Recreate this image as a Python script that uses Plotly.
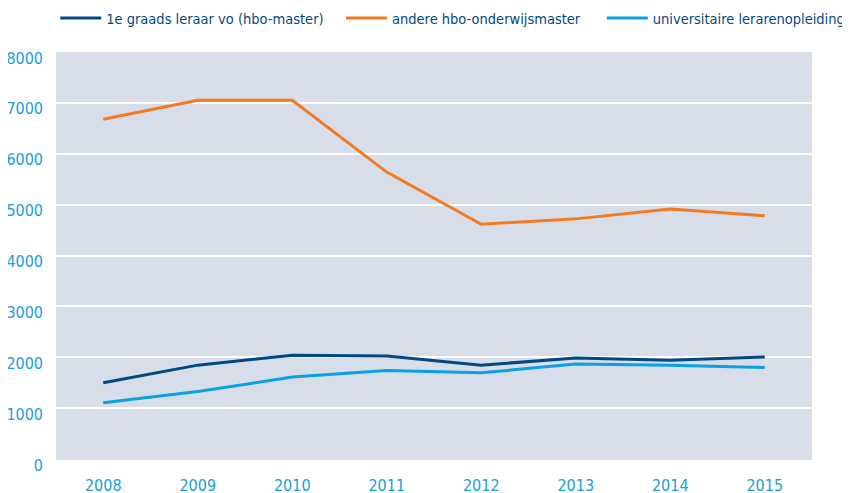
import plotly.graph_objects as go

years = ["2008", "2009", "2010", "2011", "2012", "2013", "2014", "2015"]
leraar_vo = [1500, 1845, 2040, 2025, 1845, 1985, 1940, 2005]
andere_hbo = [6680, 7050, 7050, 5640, 4615, 4720, 4915, 4780]
universitair = [1105, 1325, 1610, 1740, 1695, 1865, 1845, 1800]

series_names = ["1e graads leraar vo (hbo-master)", "andere hbo-onderwijsmaster", "universitaire lerarenopleiding"]
colors = ["#004a82", "#f47a20", "#0aa1e2"]
legend_pad = [3, 4, 0]

FONT = "Liberation Sans Narrow, DejaVu Sans Condensed, Roboto, sans-serif"
TICK = "#1b9dd9"
BG = "#d8dee9"

fig = go.Figure()
for name, vals, col, pad in zip(series_names, [leraar_vo, andere_hbo, universitair], colors, legend_pad):
    fig.add_trace(go.Scatter(x=years, y=vals, mode="lines", name=name + "\u00a0" * pad,
                             line=dict(color=col, width=3)))

fig.update_layout(
    width=850, height=493,
    margin=dict(l=48, r=46, t=44, b=42, autoexpand=False),
    paper_bgcolor="white",
    plot_bgcolor=BG,
    font=dict(family=FONT, size=15, color=TICK),
    legend=dict(orientation="h", x=-0.001, xanchor="left",
                y=1 + 34 / 407, yanchor="middle", itemwidth=41,
                font=dict(family=FONT, size=14.5, color="#004a82"),
                bgcolor="rgba(0,0,0,0)"),
    showlegend=True,
)
fig.update_xaxes(type="category", range=[-0.5, 7.5], showgrid=False, zeroline=False,
                 showline=False, ticks="", ticklabelstandoff=15, automargin=False,
                 tickfont=dict(family=FONT, size=16, color=TICK))
fig.update_yaxes(range=[0, 8000], dtick=1000, showgrid=True, gridcolor="white", gridwidth=2,
                 zeroline=True, zerolinecolor=BG, zerolinewidth=2,
                 showline=False, ticks="", ticklabelstandoff=12, ticklabelshift=6,
                 automargin=False,
                 tickfont=dict(family=FONT, size=16, color=TICK))

fig.write_html("out.html")
